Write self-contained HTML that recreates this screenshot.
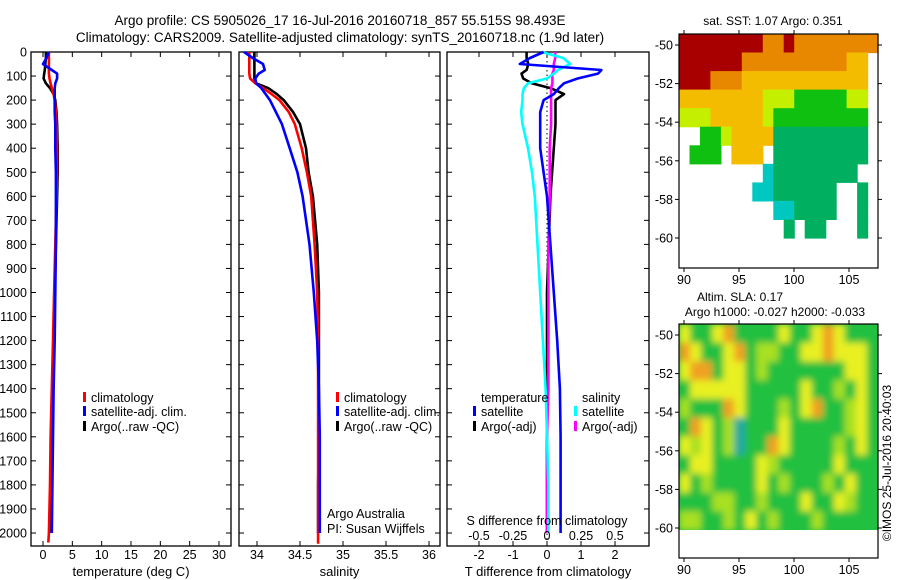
<!DOCTYPE html>
<html><head><meta charset="utf-8">
<style>
body{margin:0;background:#fff;}
svg{display:block;font-family:"Liberation Sans",sans-serif;}
text{fill:#000;}
</style></head>
<body>
<svg id="fig" width="900" height="580" viewBox="0 0 900 580" xmlns="http://www.w3.org/2000/svg">
<defs>
<filter id="blur" x="-5%" y="-5%" width="110%" height="110%"><feGaussianBlur stdDeviation="3.5" edgeMode="duplicate"/></filter>
<clipPath id="slaClip"><rect x="679" y="324" width="199" height="206"/></clipPath>
</defs>
<text x="340" y="25" font-size="13.5" text-anchor="middle">Argo profile: CS 5905026_17 16-Jul-2016 20160718_857 55.515S 98.493E</text>
<text x="340" y="42" font-size="13.5" text-anchor="middle">Climatology: CARS2009. Satellite-adjusted climatology: synTS_20160718.nc (1.9d later)</text>
<g id="g"></g>
</svg>
<script>
// ---- data ----
const depths = [0,25,50,75,90,110,130,150,175,200,250,300,400,500,600,800,1000,1200,1400,1600,1800,2000];
const tClim = [1.0,1.0,1.0,1.0,1.0,1.1,1.3,1.5,1.8,2.0,2.2,2.3,2.4,2.4,2.3,2.1,1.9,1.7,1.5,1.3,1.2,1.0];
const tArgo = [0.5,0.5,0.4,0.3,0.2,0.1,0.5,1.2,1.8,2.1,2.3,2.4,2.5,2.5,2.4,2.2,2.0,1.8,1.6,1.4,1.3,1.2];
const tSat  = [1.0,0.6,0.0,1.5,2.4,2.4,2.1,2.0,2.0,2.0,2.0,2.1,2.1,2.2,2.2,2.2,2.1,2.0,1.8,1.7,1.6,1.5];
const sClim = [33.91,33.91,33.91,33.91,33.91,33.92,33.98,34.07,34.17,34.26,34.37,34.44,34.52,34.58,34.63,34.67,34.70,34.71,34.71,34.71,34.71,34.71];
const sArgo = [33.97,33.97,33.97,33.97,33.97,33.97,33.99,34.13,34.23,34.31,34.42,34.50,34.57,34.60,34.65,34.70,34.72,34.72,34.72,34.72,34.71,34.71];
const sSat  = [33.85,33.95,34.07,34.09,34.02,33.98,33.99,34.05,34.10,34.15,34.22,34.29,34.38,34.47,34.53,34.61,34.66,34.70,34.72,34.73,34.73,34.73];
const dTSat  = [-0.1,-0.5,-0.8,1.6,1.5,0.9,0.5,0.35,0.2,-0.1,-0.2,-0.2,-0.2,-0.1,0.0,0.1,0.2,0.3,0.38,0.4,0.4,0.4];
const dTArgo = [-0.6,-0.6,-0.55,-0.6,-0.75,-0.7,-0.45,0.1,0.5,0.25,0.25,0.25,0.2,0.15,0.1,0.05,0.0,0.0,0.0,0.0,0.0,0.0];
const dSSat  = [-0.04,0.12,0.17,0.08,0.05,0.0,-0.14,-0.17,-0.18,-0.18,-0.19,-0.18,-0.14,-0.11,-0.09,-0.07,-0.05,-0.03,-0.01,0.0,0.01,0.01];
const dSArgo = [0.06,0.06,0.05,0.05,0.04,0.04,0.04,0.03,0.03,0.03,0.03,0.03,0.02,0.02,0.02,0.01,0.01,0.01,0.01,0.0,0.0,0.0];
const depthTicks = [0,100,200,300,400,500,600,700,800,900,1000,1100,1200,1300,1400,1500,1600,1700,1800,1900,2000];
const tTicks = [0,5,10,15,20,25,30];
const sTicks = [34,34.5,35,35.5,36];
const sTickLabels = ["34","34.5","35","35.5","36"];
const dTTicks = [-2,-1,0,1,2];
const dSTicks = [-0.5,-0.25,0,0.25,0.5];
const dSTickLabels = ["-0.5","-0.25","0","0.25","0.5"];
const lonTicks = [90,95,100,105];
const latTicks = [-50,-52,-54,-56,-58,-60];
const sstGrid = [
"rrrrrrrrooroooooooo",
"rrrrrrooooooooooyy",
"rrroooyyyyyyyyyyyy",
"yyyyyyyylllgggggll",
"lllyyyyylggggggggg",
"wwgglyyyyGGGGGGGGG",
"wgggwyyywGGGGGGGGG",
"wwwwwwwwcGGGGGGGGw",
"wwwwwwwccGGGGGGwwG",
"wwwwwwwwwccGGGGwwG",
"wwwwwwwwwwGwGGwwwG"];
const slaGrid = [
"yggyoggggyggyoyggg",
"oyggyogllggyyoyyyg",
"yoogyyglgggggggyyg",
"gyyyyygggggygglgyg",
"lgggoyggglgyogglyg",
"goyglcgggyggggglyg",
"ylyglcggoygggglgyg",
"gyyggggylgggggyggg",
"yglggggyglggglgygg",
"gggllgglgggyggylgg",
"llgglgyglggglggggg"];
const sstColors = {r:"#a80000",o:"#e88800",y:"#f4bc00",l:"#c4f000",g:"#10c010",G:"#00b060",c:"#00c8c0",w:"#ffffff"};
const slaColors = {g:"#20c040",G:"#10a860",y:"#e8f020",l:"#a8e020",o:"#f0a020",c:"#20a8a0"};

// ---- drawing ----
const NS="http://www.w3.org/2000/svg";
const G=document.getElementById('g');
function mk(tag,attrs,parent){const e=document.createElementNS(NS,tag);for(const k in attrs)e.setAttribute(k,attrs[k]);(parent||G).appendChild(e);return e;}
function txt(s,x,y,size,anchor,parent){const t=mk('text',{x:x,y:y,'font-size':size,'text-anchor':anchor||'middle'},parent);t.textContent=s;return t;}

const PT=52, PB=546;
const yD = d => 52 + d*0.2405;
const xT = t => 43 + t*5.867;
const xS = s => 257 + (s-34)*86;
const xDT = v => 547 + v*34;
const xDS = v => 547 + v*136;

function panel(name,x0,x1,ticks,fx,labels,title){
  const g=mk('g',{});
  
  
  const r=mk('rect',{x:x0,y:PT,width:x1-x0,height:PB-PT,fill:'none',stroke:'#000','stroke-width':1.3},g);
  
  
  depthTicks.forEach(d=>{
    mk('line',{x1:x0,x2:x0+5,y1:yD(d),y2:yD(d),stroke:'#000'},g);
    mk('line',{x1:x1,x2:x1-5,y1:yD(d),y2:yD(d),stroke:'#000'},g);
  });
  ticks.forEach((v,i)=>{
    const x=fx(v);
    mk('line',{x1:x,x2:x,y1:PB,y2:PB-5,stroke:'#000'},g);
    mk('line',{x1:x,x2:x,y1:PT,y2:PT+5,stroke:'#000'},g);
    const t=txt(labels?labels[i]:String(v),x,559,12.5,'middle',g);
    
    
  });
  const tt=txt(title,(x0+x1)/2,576,13,'middle',g);
  
  
  return g;
}
function line(name,vals,fx,color,extra){
  const pts=vals.map((v,i)=>fx(v).toFixed(1)+','+yD(depths[i]).toFixed(1));
  if(extra) pts.push(fx(extra[0]).toFixed(1)+','+yD(extra[1]).toFixed(1));
  const p=mk('polyline',{points:pts.join(' '),fill:'none',stroke:color,'stroke-width':2.6,'stroke-linejoin':'round'});
  
  
  return p;
}
function legendRow(name,x,y,color,label){
  const m=mk('rect',{x:x,y:y-10,width:3,height:10,fill:color});
  
  
  const t=txt(label,x+8,y,12.5,'start');
  
  
}

depthTicks.forEach(d=>{
  const t=txt(String(d),27,yD(d)+4.5,12.5,'end');
  
  
});

panel('temperature-panel',31,231,tTicks,xT,null,'temperature (deg C)');
line('temperature-argo',tArgo,xT,'#000');
line('temperature-climatology',tClim,xT,'#f00',[0.9,2040]);
line('temperature-satellite',tSat,xT,'#00f');
legendRow('legend-t-climatology',83,402,'#f00','climatology');
legendRow('legend-t-satellite',83,416,'#00f','satellite-adj. clim.');
legendRow('legend-t-argo',83,431,'#000','Argo(..raw -QC)');

panel('salinity-panel',239,440,sTicks,xS,sTickLabels,'salinity');
line('salinity-argo',sArgo,xS,'#000');
line('salinity-climatology',sClim,xS,'#f00',[34.71,2045]);
line('salinity-satellite',sSat,xS,'#00f');
legendRow('legend-s-climatology',336,402,'#f00','climatology');
legendRow('legend-s-satellite',336,416,'#00f','satellite-adj. clim.');
legendRow('legend-s-argo',336,431,'#000','Argo(..raw -QC)');
let a1=txt('Argo Australia',327,518,12.5,'start');
let a2=txt('PI: Susan Wijffels',327,533,12.5,'start');

panel('difference-panel',447,649,dTTicks,xDT,null,'T difference from climatology');
const zl=mk('line',{x1:xDT(0),x2:xDT(0),y1:PT,y2:PB,stroke:'#000','stroke-dasharray':'1.5,3'});


line('t-diff-argo',dTArgo,xDT,'#000');
line('s-diff-argo',dSArgo,xDS,'#f0f');
line('s-diff-satellite',dSSat,xDS,'#0ff');
line('t-diff-satellite',dTSat,xDT,'#00f');
let lt=txt('temperature',481,402,12.5,'start');
let ls=txt('salinity',582,402,12.5,'start');
legendRow('legend-t-diff-satellite',473,416,'#00f','satellite');
legendRow('legend-t-diff-argo',473,431,'#000','Argo(-adj)');
legendRow('legend-s-diff-satellite',574,416,'#0ff','satellite');
legendRow('legend-s-diff-argo',574,431,'#f0f','Argo(-adj)');
let sd=txt('S difference from climatology',547,525,12.5,'middle');
dSTicks.forEach((v,i)=>{const t=txt(dSTickLabels[i],xDS(v),540,12.5,'middle');});

function map(name,y0,y1,imgBot,grid,colors,labelY,smooth){
  const g=mk('g',{});
  
  
  const x0=679,x1=878;
  const rows=grid.length, cols=grid[0].length;
  const cw=(x1-x0)/cols, rh=(imgBot-y0)/rows;
  let cg=g;
  if(smooth){
    const clip=mk('g',{'clip-path':'url(#slaClip)'},g);
    mk('rect',{x:x0,y:y0,width:x1-x0,height:imgBot-y0,fill:colors.g},clip);
    cg=mk('g',{filter:'url(#blur)'},clip);
  }
  grid.forEach((row,r)=>{
    for(let c=0;c<cols;c++){
      const ch=row[c]||'w';
      if(ch==='w') continue;
      const cell=mk('rect',{x:(x0+c*cw).toFixed(1),y:(y0+r*rh).toFixed(1),width:(cw+0.6).toFixed(1),height:(rh+0.6).toFixed(1),fill:colors[ch]},cg);
      
      
    }
  });
  mk('rect',{x:x0,y:y0,width:x1-x0,height:y1-y0,fill:'none',stroke:'#000','stroke-width':1.2},g);
  const lonX=l=>684+(l-90)*11;
  const latY=l=>y0+11+(-50-l)*19.3;
  lonTicks.forEach(l=>{
    mk('line',{x1:lonX(l),x2:lonX(l),y1:y1,y2:y1+4,stroke:'#000'},g);
    mk('line',{x1:lonX(l),x2:lonX(l),y1:y0,y2:y0-4,stroke:'#000'},g);
    const t=txt(String(l),lonX(l),labelY,12.5,'middle',g);
    
    
  });
  latTicks.forEach(l=>{
    mk('line',{x1:x0,x2:x0-4,y1:latY(l),y2:latY(l),stroke:'#000'},g);
    mk('line',{x1:x1,x2:x1+4,y1:latY(l),y2:latY(l),stroke:'#000'},g);
    const t=txt(String(l),673,latY(l)+4.5,12.5,'end',g);
    
    
  });
}
map('sst-map',34,268,238,sstGrid,sstColors,284,false);
map('sla-map',324,558,530,slaGrid,slaColors,574,true);
let m1=txt('sat. SST: 1.07 Argo: 0.351',773,25,12,'middle');
let m2=txt('Altim. SLA: 0.17',740,301,12,'middle');
let m3=txt('Argo h1000: -0.027 h2000: -0.033',775,316,12,'middle');
let cp=txt('©IMOS 25-Jul-2016 20:40:03',0,0,12,'middle');
cp.setAttribute('transform','translate(891,463) rotate(-90)');


</script>
</body></html>
